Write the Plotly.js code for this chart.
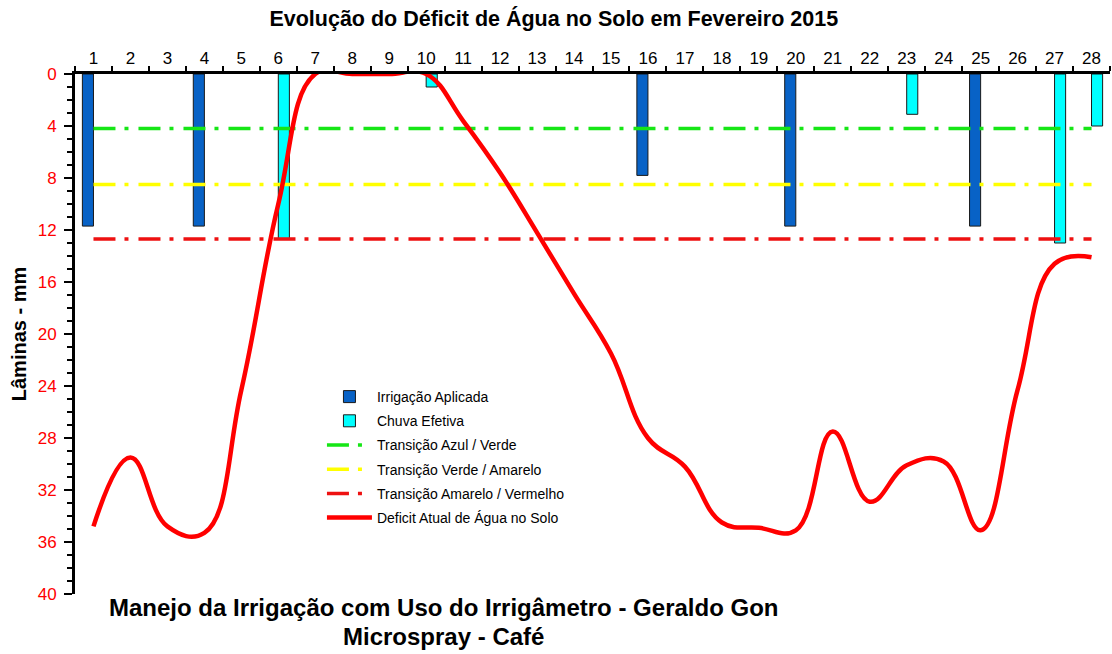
<!DOCTYPE html>
<html>
<head>
<meta charset="utf-8">
<script src="https://cdn.plot.ly/plotly-3.0.1.min.js"></script>
<style>html,body{margin:0;padding:0;background:#fff;}#chart{width:1112px;height:654px;}</style>
</head>
<body>
<div id="chart"></div>
<script>
// ---- data ----
const days = ['1','2','3','4','5','6','7','8','9','10','11','12','13','14','15','16','17','18','19','20','21','22','23','24','25','26','27','28'];
const irrigacaoAplicada = [11.7, null, null, 11.7, null, null, null, null, null, null, null, null, null, null, null, 7.8, null, null, null, 11.7, null, null, null, null, 11.7, null, null, null];
const chuvaEfetiva = [null, null, null, null, null, 12.7, null, null, null, 1.0, null, null, null, null, null, null, null, null, null, null, null, null, 3.1, null, null, null, 13.0, 4.0];
const deficitAtual = [34.8, 29.5, 34.8, 35.3, 24.3, 10.0, 0.0, 0.0, 0.0, 0.0, 3.6, 7.6, 12.2, 16.9, 21.5, 28.0, 30.2, 34.5, 34.9, 35.1, 27.5, 32.9, 30.1, 29.8, 35.1, 24.3, 14.6, 14.1];
const transAzulVerde = 4.2;
const transVerdeAmarelo = 8.5;
const transAmareloVermelho = 12.7;
const yTicks = [0, 4, 8, 12, 16, 20, 24, 28, 32, 36, 40];

const FONT = 'Liberation Sans, Arial, sans-serif';
const dashPat = '22px,9px,4px,10px';
const lineSpan = [days[0], days[days.length - 1]];

const traces = [
  {type: 'bar', name: 'Irrigação Aplicada', x: days, y: irrigacaoAplicada, legendgroup: 'a',
   marker: {color: '#0862c6', line: {color: '#1a1a1a', width: 1}}},
  {type: 'bar', name: 'Chuva Efetiva', x: days, y: chuvaEfetiva, legendgroup: 'b',
   marker: {color: '#00ffff', line: {color: '#1a1a1a', width: 1}}},
  {type: 'scatter', mode: 'lines', name: 'Transição Azul / Verde', x: lineSpan, y: [transAzulVerde, transAzulVerde], legendgroup: 'c',
   line: {color: '#16e616', width: 3.5, dash: dashPat}},
  {type: 'scatter', mode: 'lines', name: 'Transição Verde / Amarelo', x: lineSpan, y: [transVerdeAmarelo, transVerdeAmarelo], legendgroup: 'd',
   line: {color: '#ffff00', width: 3.5, dash: dashPat}},
  {type: 'scatter', mode: 'lines', name: 'Transição Amarelo / Vermelho', x: lineSpan, y: [transAmareloVermelho, transAmareloVermelho], legendgroup: 'e',
   line: {color: '#ee1111', width: 3.5, dash: dashPat}},
  {type: 'scatter', mode: 'lines', name: 'Deficit Atual de Água no Solo', x: days, y: deficitAtual, legendgroup: 'f',
   line: {color: '#ff0000', width: 4.5, shape: 'spline', smoothing: 1.2}}
];

const layout = {
  width: 1112, height: 654,
  margin: {l: 75, r: 2, t: 74, b: 60},
  paper_bgcolor: '#ffffff', plot_bgcolor: '#ffffff',
  font: {family: FONT, color: '#000'},
  showlegend: true,
  barmode: 'group', bargap: 0.4, bargroupgap: 0,
  title: {
    text: 'Evolução do Déficit de Água no Solo em Fevereiro 2015',
    font: {family: FONT, size: 21.5, weight: 'bold', color: '#000'},
    x: 0.498, xref: 'container', xanchor: 'center',
    y: 0.972, yref: 'container', yanchor: 'middle'
  },
  xaxis: {
    type: 'category', categoryorder: 'array', categoryarray: days,
    side: 'top', showline: true, linecolor: '#000', linewidth: 3,
    ticks: 'outside', tickson: 'boundaries', ticklen: 5, tickwidth: 2, tickcolor: '#000',
    tickfont: {family: FONT, size: 17, color: '#000'},
    showgrid: false, zeroline: false, fixedrange: true
  },
  yaxis: {
    range: [40, 0], tickmode: 'array', tickvals: yTicks,
    showline: true, linecolor: '#000', linewidth: 3,
    ticks: 'outside', ticklen: 8, tickwidth: 2, tickcolor: '#000',
    minor: {dtick: 1, tick0: 0, ticks: 'outside', ticklen: 5, tickwidth: 2, tickcolor: '#000', showgrid: false},
    tickfont: {family: FONT, size: 17, color: '#ff0000'},
    ticklabelstandoff: 4,
    showgrid: false, zeroline: false, fixedrange: true,
    title: {text: 'Lâminas - mm', font: {family: FONT, size: 20, weight: 'bold', color: '#000'}, standoff: 6}
  },
  legend: {
    x: 0.2386, y: 0.4096, xanchor: 'left', yanchor: 'top',
    bgcolor: 'rgba(0,0,0,0)', borderwidth: 0,
    font: {family: FONT, size: 14, color: '#000'},
    itemwidth: 45, tracegroupgap: 3, traceorder: 'grouped'
  },
  annotations: [
    {text: 'Manejo da Irrigação com Uso do Irrigâmetro - Geraldo Gon', xref: 'paper', yref: 'paper',
     x: 0.3565, y: -0.025, xanchor: 'center', yanchor: 'middle', showarrow: false,
     font: {family: FONT, size: 24, weight: 'bold', color: '#000'}},
    {text: 'Microspray - Café', xref: 'paper', yref: 'paper',
     x: 0.3565, y: -0.082, xanchor: 'center', yanchor: 'middle', showarrow: false,
     font: {family: FONT, size: 24, weight: 'bold', color: '#000'}}
  ]
};

Plotly.newPlot('chart', traces, layout, {displayModeBar: false, staticPlot: true});
</script>
</body>
</html>
